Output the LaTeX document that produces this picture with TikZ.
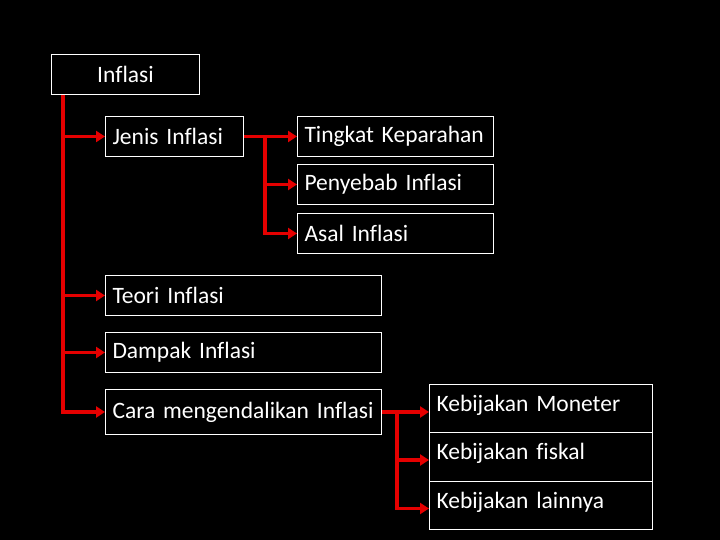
\documentclass[tikz,border=0pt]{standalone}
\usepackage{fontspec}
\setmainfont{Carlito}[Ligatures=NoCommon]
\usetikzlibrary{arrows.meta}
\tikzset{
  box/.style={draw=white,line width=1pt,text=white,anchor=north west,
    inner xsep=7pt,minimum height=40pt,align=left,
    font=\fontsize{23.5}{26}\selectfont},
  kbox/.style={box,minimum height=48pt,text depth=11pt,text width=209pt},
  link/.style={red!90!black,line width=3.5pt}
}
\begin{document}
\begin{tikzpicture}[x=1pt,y=1pt,>={Triangle[length=9pt,width=11pt]}]
\fill[black] (0,0) rectangle (720,540);
\useasboundingbox (0,0) rectangle (720,540);
% boxes
\node[box,align=center,text width=134pt] (inflasi) at (51,486) {Inflasi};
\node[box,text width=124pt] (jenis) at (105,424) {Jenis Inflasi};
\node[box,text width=182pt] (tingkat) at (297,424) {Tingkat Keparahan};
\node[box,text width=182pt] (penyebab) at (297,376) {Penyebab Inflasi};
\node[box,text width=182pt] (asal) at (297,327) {Asal Inflasi};
\node[box,text width=262pt] (teori) at (105,265) {Teori Inflasi};
\node[box,text width=262pt] (dampak) at (105,208) {Dampak Inflasi};
\node[box,text width=262pt,minimum height=45pt] (cara) at (105,151) {Cara mengendalikan Inflasi};
\node[kbox] (moneter) at (429,156) {Kebijakan Moneter};
\node[kbox,minimum height=49pt] (fiskal) at (429,108) {Kebijakan fiskal};
\node[kbox] (lainnya) at (429,59) {Kebijakan lainnya};
% main trunk
\coordinate (trunk) at ([xshift=12pt]inflasi.south west);
\draw[link,->] (trunk) |- (cara.west);
\foreach \n in {jenis,teori,dampak}
  \draw[link,->] (trunk |- \n.west) -- (\n.west);
% jenis inflasi
\coordinate (jt) at ([xshift=21pt]jenis.east);
\draw[link,->] (jenis.east) -- (tingkat.west);
\draw[link,->] (jt) |- (asal.west);
\draw[link,->] (jt |- penyebab.west) -- (penyebab.west);
% cara mengendalikan
\coordinate (ck) at ([xshift=15pt]cara.east);
\draw[link,->] (cara.east) -- (moneter.west |- cara.east);
\draw[link,->] (ck) |- ([yshift=-3pt]lainnya.west);
\draw[link,->] (ck |- fiskal.west) ++(0,-3) -- ([yshift=-3pt]fiskal.west);
\end{tikzpicture}
\end{document}
